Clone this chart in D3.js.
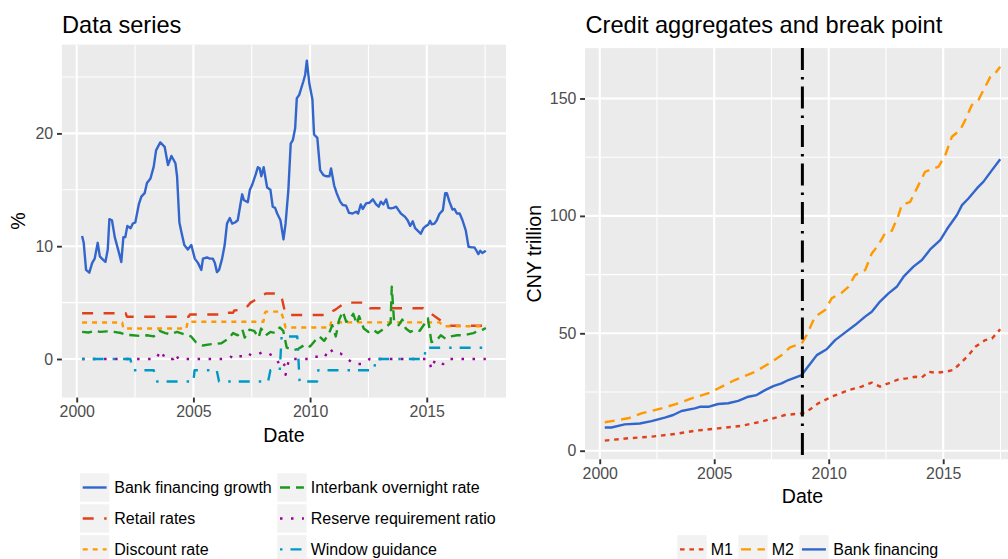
<!DOCTYPE html>
<html><head><meta charset="utf-8">
<script src="https://cdn.jsdelivr.net/npm/d3@7"></script>
<style>
html,body{margin:0;padding:0;background:#fff;}
svg{display:block;font-family:"Liberation Sans",Arial,Helvetica,sans-serif;}
</style></head>
<body><svg id="chart" width="1008" height="559"></svg>
<script>
// ---------------- DATA (left panel, %) ----------------
const bankGrowth = [[2000.23,10.9],[2000.30,10.3],[2000.40,7.9],[2000.54,7.65],[2000.66,8.5],[2000.77,8.9],[2000.90,10.3],[2000.99,9.1],[2001.08,8.9],[2001.23,8.6],[2001.33,9.7],[2001.40,12.4],[2001.51,12.3],[2001.63,10.8],[2001.80,9.5],[2001.91,8.6],[2002.00,10.8],[2002.08,10.8],[2002.17,11.8],[2002.31,11.6],[2002.40,12.0],[2002.51,12.1],[2002.66,13.7],[2002.77,14.4],[2002.91,14.7],[2003.01,15.6],[2003.16,16.0],[2003.30,17.05],[2003.40,18.5],[2003.58,19.2],[2003.77,18.8],[2003.91,17.2],[2004.06,18.0],[2004.23,17.35],[2004.30,16.2],[2004.40,12.1],[2004.48,11.3],[2004.61,10.1],[2004.76,9.7],[2004.91,10.1],[2005.06,8.9],[2005.20,8.5],[2005.34,7.9],[2005.41,8.9],[2005.58,9.0],[2005.70,8.9],[2005.83,8.9],[2005.92,8.5],[2006.01,7.7],[2006.10,7.9],[2006.23,8.9],[2006.34,10.1],[2006.44,12.0],[2006.56,12.5],[2006.66,12.0],[2006.78,12.1],[2006.90,12.3],[2007.01,13.65],[2007.09,14.6],[2007.16,14.1],[2007.33,13.9],[2007.42,15.0],[2007.51,15.4],[2007.66,16.3],[2007.76,17.0],[2007.84,16.9],[2007.91,16.2],[2008.01,17.0],[2008.16,15.2],[2008.30,15.0],[2008.40,13.5],[2008.50,13.4],[2008.59,12.9],[2008.73,12.3],[2008.86,10.6],[2008.95,12.0],[2009.07,15.0],[2009.17,19.1],[2009.26,19.4],[2009.36,20.45],[2009.43,23.1],[2009.53,23.4],[2009.71,24.6],[2009.79,25.2],[2009.86,26.45],[2009.97,24.4],[2010.10,23.0],[2010.17,19.9],[2010.31,19.6],[2010.43,16.75],[2010.57,16.3],[2010.70,16.2],[2010.83,16.2],[2010.90,16.9],[2010.96,16.2],[2011.03,15.4],[2011.14,14.7],[2011.29,13.95],[2011.40,13.65],[2011.54,13.6],[2011.67,12.95],[2011.82,12.9],[2011.97,13.05],[2012.06,12.9],[2012.17,13.7],[2012.26,13.3],[2012.40,13.8],[2012.54,13.85],[2012.69,14.15],[2012.83,13.7],[2012.94,13.5],[2013.03,13.95],[2013.14,13.7],[2013.26,14.15],[2013.36,13.4],[2013.46,13.35],[2013.57,13.4],[2013.69,13.5],[2013.79,13.2],[2013.89,12.9],[2014.07,12.6],[2014.18,12.3],[2014.29,11.8],[2014.40,12.2],[2014.50,11.6],[2014.60,11.4],[2014.74,11.1],[2014.86,11.6],[2014.97,11.8],[2015.06,11.9],[2015.14,12.25],[2015.21,11.95],[2015.33,12.0],[2015.43,12.3],[2015.54,12.85],[2015.69,13.2],[2015.79,14.7],[2015.86,14.7],[2015.97,13.95],[2016.10,13.25],[2016.19,13.3],[2016.29,12.9],[2016.41,12.9],[2016.53,12.3],[2016.67,11.4],[2016.79,9.95],[2016.93,9.9],[2017.04,9.9],[2017.13,9.6],[2017.21,9.3],[2017.29,9.6],[2017.38,9.4],[2017.53,9.6]];

const retailRates = [[2000.23,4.05],[2002.10,4.05],[2002.15,3.75],[2004.80,3.75],[2004.85,3.95],[2006.30,3.95],[2006.35,4.1],[2006.70,4.1],[2006.75,4.3],[2007.20,4.4],[2007.45,5.0],[2007.70,5.3],[2007.90,5.6],[2008.10,5.8],[2008.70,5.8],[2008.80,5.3],[2008.92,4.2],[2009.00,3.9],[2010.80,3.9],[2010.85,4.1],[2011.10,4.4],[2011.30,4.7],[2011.50,5.0],[2012.40,5.0],[2012.45,4.75],[2012.55,4.5],[2014.85,4.5],[2014.90,4.3],[2015.20,4.0],[2015.40,3.7],[2015.60,3.4],[2015.80,3.1],[2015.90,2.95],[2017.53,2.95]];

const discountRate = [[2000.23,3.24],[2001.95,3.24],[2002.00,2.7],[2004.70,2.7],[2004.75,3.3],[2008.00,3.3],[2008.05,4.0],[2008.10,4.2],[2008.75,4.2],[2008.85,3.6],[2008.95,2.79],[2010.85,2.79],[2010.90,3.25],[2015.55,3.25],[2015.65,3.0],[2015.80,2.9],[2017.53,2.9]];

const interbankRate = [[2000.23,2.4],[2000.5,2.35],[2000.8,2.5],[2001.0,2.4],[2001.3,2.45],[2001.6,2.4],[2001.9,2.3],[2002.1,2.15],[2002.4,2.1],[2002.7,2.05],[2003.0,2.1],[2003.3,2.0],[2003.55,2.5],[2003.8,2.3],[2004.0,2.2],[2004.3,2.4],[2004.6,2.2],[2004.9,2.0],[2005.1,1.5],[2005.4,1.2],[2005.7,1.3],[2006.0,1.35],[2006.2,1.4],[2006.5,1.8],[2006.7,2.3],[2006.9,2.1],[2007.1,2.6],[2007.2,1.9],[2007.4,2.6],[2007.6,2.5],[2007.8,1.9],[2007.9,2.7],[2008.1,2.1],[2008.3,2.4],[2008.5,2.3],[2008.7,2.8],[2008.85,2.5],[2009.0,1.0],[2009.3,0.8],[2009.5,0.9],[2009.8,1.3],[2010.0,1.1],[2010.2,1.6],[2010.4,2.0],[2010.6,1.6],[2010.8,2.2],[2010.95,3.0],[2011.1,2.0],[2011.25,3.5],[2011.4,4.2],[2011.55,3.3],[2011.7,3.5],[2011.85,4.0],[2012.0,3.1],[2012.1,3.8],[2012.3,2.7],[2012.5,2.4],[2012.7,2.6],[2012.9,2.3],[2013.1,2.6],[2013.3,2.9],[2013.45,3.2],[2013.5,6.4],[2013.6,3.3],[2013.8,3.0],[2013.95,3.5],[2014.1,2.7],[2014.3,2.4],[2014.5,2.6],[2014.7,2.5],[2014.9,3.1],[2015.05,3.6],[2015.2,1.5],[2015.4,1.6],[2015.6,2.1],[2015.8,1.8],[2016.0,2.0],[2016.3,2.1],[2016.6,2.1],[2016.8,2.2],[2017.0,2.3],[2017.2,2.5],[2017.4,2.6],[2017.53,2.75]];

const reserveRatio = [[2000.23,0],[2003.4,0],[2003.6,0.75],[2003.8,0],[2004.15,0],[2004.25,0.45],[2004.35,0],[2006.45,0],[2006.6,0.2],[2006.8,0],[2006.95,0.25],[2007.1,0.25],[2007.3,0.55],[2007.5,0.3],[2007.8,0.45],[2008.0,0.65],[2008.2,0.5],[2008.4,0.3],[2008.55,0],[2008.7,-0.5],[2008.8,-0.8],[2008.9,-0.5],[2008.95,-1.4],[2009.1,0],[2010.0,0],[2010.1,0.2],[2010.4,0.2],[2010.6,0.1],[2010.85,0.95],[2011.0,0.5],[2011.3,0.5],[2011.6,0],[2011.9,-0.45],[2012.2,-0.45],[2012.4,-0.25],[2012.55,0],[2014.95,0],[2015.1,-0.1],[2015.2,-0.9],[2015.35,-0.1],[2015.7,-0.45],[2015.9,0],[2017.53,0]];

const windowGuidance = [[2000.23,0],[2002.3,0],[2002.4,-1],[2003.3,-1],[2003.45,-2],[2005.0,-2],[2005.05,-1],[2006.0,-1],[2006.1,-2],[2008.2,-2],[2008.3,-1],[2008.7,-1],[2008.78,2],[2009.45,2],[2009.5,0],[2009.55,-2],[2010.3,-2],[2010.35,-1],[2012.75,-1],[2012.8,0],[2014.9,0],[2014.95,1],[2017.53,1]];

// ---------------- DATA (right panel, CNY trillion) ----------------
const m1 = [[2000.22,4.3],[2001.24,5.3],[2002.26,6.0],[2003.28,7.1],[2004.15,8.5],[2005.17,9.5],[2006.20,10.6],[2007.07,12.4],[2008.09,15.2],[2008.82,15.9],[2009.04,16.6],[2009.55,20.2],[2010.13,23.0],[2010.86,25.8],[2011.44,27.3],[2011.88,29.0],[2012.24,27.3],[2012.61,28.7],[2013.05,30.4],[2013.41,30.8],[2013.78,31.5],[2014.07,31.2],[2014.36,33.6],[2014.65,33.2],[2015.09,33.6],[2015.45,34.4],[2015.82,37.9],[2016.11,40.7],[2016.40,44.3],[2016.84,47.1],[2017.13,47.8],[2017.49,51.7]];

const m2 = [[2000.22,12.1],[2001.24,13.8],[2001.82,15.9],[2002.70,18.0],[2003.43,20.2],[2004.01,22.3],[2004.81,24.7],[2005.17,26.5],[2005.90,30.1],[2006.78,33.6],[2007.36,36.9],[2007.94,40.7],[2008.31,44.0],[2008.82,45.7],[2009.04,49.3],[2009.40,57.1],[2009.84,59.9],[2010.13,64.9],[2010.57,67.3],[2010.86,69.8],[2011.15,74.8],[2011.59,76.9],[2011.88,84.0],[2012.17,87.6],[2012.46,92.6],[2012.76,93.7],[2013.05,100.4],[2013.19,104.6],[2013.56,106.0],[2013.92,113.1],[2014.21,118.8],[2014.58,120.2],[2014.80,121.0],[2015.09,125.9],[2015.38,133.7],[2015.74,136.6],[2015.96,140.8],[2016.25,147.2],[2016.55,149.6],[2016.76,153.6],[2016.91,156.4],[2017.06,159.3],[2017.27,160.7],[2017.49,163.5]];

const bankFinancing = [[2000.22,9.9],[2000.51,9.9],[2001.09,11.2],[2001.75,11.6],[2002.26,12.6],[2002.84,14.1],[2003.21,15.2],[2003.57,16.9],[2004.15,18.0],[2004.37,18.7],[2004.74,18.7],[2005.17,19.9],[2005.61,20.2],[2006.05,21.2],[2006.49,23.0],[2006.85,23.7],[2007.22,25.8],[2007.58,27.5],[2007.94,28.7],[2008.24,30.1],[2008.82,32.2],[2009.04,35.1],[2009.26,37.9],[2009.48,40.7],[2009.91,43.2],[2010.28,47.1],[2010.71,50.3],[2011.15,53.5],[2011.59,57.1],[2011.88,59.2],[2012.24,63.5],[2012.61,67.0],[2012.97,69.8],[2013.27,74.1],[2013.70,78.4],[2014.07,81.2],[2014.43,85.7],[2014.87,89.7],[2015.16,94.3],[2015.60,100.4],[2015.82,104.6],[2016.11,107.5],[2016.47,111.7],[2016.76,114.6],[2017.13,119.5],[2017.49,124.1]];

const breakPoint = 2008.85;

const xTicks = [2000, 2005, 2010, 2015];
const leftYTicks = [0, 10, 20];
const rightYTicks = [0, 50, 100, 150];

const leftNames = ["Bank financing growth","Retail rates","Discount rate","Interbank overnight rate","Reserve requirement ratio","Window guidance"];
const rightNames = ["M1","M2","Bank financing"];

// ---------------- STYLES ----------------
const leftSeries = [
  {name:leftNames[0], data:bankGrowth,     color:"#3366CC", dash:null},
  {name:leftNames[1], data:retailRates,    color:"#E2401B", dash:"11,10.5"},
  {name:leftNames[2], data:discountRate,   color:"#FF9900", dash:"5,5"},
  {name:leftNames[3], data:interbankRate,  color:"#1C991C", dash:"10,6"},
  {name:leftNames[4], data:reserveRatio,   color:"#990099", dash:"2.5,8.5"},
  {name:leftNames[5], data:windowGuidance, color:"#0099C6", dash:"2.5,8,11,9"}
];
const rightSeries = [
  {name:rightNames[0], data:m1,            color:"#E2401B", dash:"4.6,4.8"},
  {name:rightNames[1], data:m2,            color:"#FF9900", dash:"10,6.5"},
  {name:rightNames[2], data:bankFinancing, color:"#3366CC", dash:null}
];

const svg = d3.select("#chart");
svg.append("rect").attr("width",1008).attr("height",559).attr("fill","#fff");

const LW = 2.4;
const tickCol = "#333333", labCol = "#4D4D4D";

function expand(ext){ const r = ext[1]-ext[0]; return [ext[0]-0.05*r, ext[1]+0.05*r]; }

function panel(cfg){
  const {x0,x1,y0,y1,series,yTicks,id} = cfg;
  const allX = series.flatMap(s=>s.data.map(d=>d[0]));
  const allY = series.flatMap(s=>s.data.map(d=>d[1]));
  const x = d3.scaleLinear().domain(expand(d3.extent(allX))).range([x0,x1]);
  const y = d3.scaleLinear().domain(expand(d3.extent(allY))).range([y1,y0]);
  const g = svg.append("g");
  g.append("rect").attr("x",x0).attr("y",y0).attr("width",x1-x0).attr("height",y1-y0).attr("fill","#EBEBEB");
  svg.append("clipPath").attr("id",id).append("rect").attr("x",x0).attr("y",y0).attr("width",x1-x0).attr("height",y1-y0);
  const xd = x.domain(), yd = y.domain();
  const xMinor = xTicks.map(t=>t+2.5).concat([xTicks[0]-2.5]).filter(t=>t>=xd[0]&&t<=xd[1]);
  const yStep = yTicks[1]-yTicks[0];
  const yMinor = yTicks.map(t=>t+yStep/2).concat([yTicks[0]-yStep/2]).filter(t=>t>=yd[0]&&t<=yd[1]);
  const grid = g.append("g").attr("clip-path",`url(#${id})`);
  grid.selectAll(".mnx").data(xMinor).enter().append("line")
    .attr("x1",d=>x(d)).attr("x2",d=>x(d)).attr("y1",y0).attr("y2",y1).attr("stroke","#fff").attr("stroke-width",1.1);
  grid.selectAll(".mny").data(yMinor).enter().append("line")
    .attr("y1",d=>y(d)).attr("y2",d=>y(d)).attr("x1",x0).attr("x2",x1).attr("stroke","#fff").attr("stroke-width",1.1);
  grid.selectAll(".mjx").data(xTicks).enter().append("line")
    .attr("x1",d=>x(d)).attr("x2",d=>x(d)).attr("y1",y0).attr("y2",y1).attr("stroke","#fff").attr("stroke-width",2.1);
  grid.selectAll(".mjy").data(yTicks).enter().append("line")
    .attr("y1",d=>y(d)).attr("y2",d=>y(d)).attr("x1",x0).attr("x2",x1).attr("stroke","#fff").attr("stroke-width",2.1);

  const xAxis = d3.axisBottom(x).tickValues(xTicks).tickFormat(d3.format("d")).tickSize(4.9).tickPadding(3.5);
  const yAxis = d3.axisLeft(y).tickValues(yTicks).tickFormat(d3.format("d")).tickSize(4.9).tickPadding(3.8);
  const gx = svg.append("g").attr("transform",`translate(0,${y1})`).call(xAxis);
  const gy = svg.append("g").attr("transform",`translate(${x0},0)`).call(yAxis);
  [gx,gy].forEach(a=>{
    a.select(".domain").remove();
    a.selectAll("line").attr("stroke",tickCol).attr("stroke-width",1.9);
    a.selectAll("text").attr("fill",labCol).style("font-size","15.9px").style("font-family","Liberation Sans, Arial, sans-serif");
  });
  return {x,y,g,clip:id};
}

function drawLines(p, series){
  const line = d3.line().x(d=>p.x(d[0])).y(d=>p.y(d[1]));
  const lg = svg.append("g").attr("clip-path",`url(#${p.clip})`);
  series.forEach(s=>{
    lg.append("path").datum(s.data).attr("d",line).attr("fill","none")
      .attr("stroke",s.color).attr("stroke-width",LW).attr("stroke-linejoin","round").attr("stroke-linecap","butt")
      .attr("stroke-dasharray",s.dash);
  });
  return lg;
}

// ---------- Left panel ----------
const L = panel({x0:61.9,x1:506,y0:44.6,y1:397.6,series:leftSeries,yTicks:leftYTicks,id:"clipL"});
drawLines(L, leftSeries);

// ---------- Right panel ----------
const R = panel({x0:585,x1:1020,y0:48.1,y1:459.3,series:rightSeries,yTicks:rightYTicks,id:"clipR"});
const rl = drawLines(R, rightSeries);
rl.append("line").attr("x1",R.x(breakPoint)).attr("x2",R.x(breakPoint)).attr("y1",48.1).attr("y2",459.3)
  .attr("stroke","#000").attr("stroke-width",3).attr("stroke-dasharray","22,7,2.5,7");

// ---------- Titles ----------
svg.append("text").attr("x",62).attr("y",32.5).text("Data series").style("font-size","23.6px").attr("fill","#000");
svg.append("text").attr("x",585.5).attr("y",32.5).text("Credit aggregates and break point").style("font-size","23.6px").attr("fill","#000");
svg.append("text").attr("x",(61.9+506)/2).attr("y",441.8).attr("text-anchor","middle").text("Date").style("font-size","19.6px");
svg.append("text").attr("x",(585+1020)/2).attr("y",503.3).attr("text-anchor","middle").text("Date").style("font-size","19.6px");
svg.append("text").attr("transform",`translate(24.5,${(44.6+397.6)/2}) rotate(-90)`).attr("text-anchor","middle").text("%").style("font-size","19.6px");
svg.append("text").attr("transform",`translate(540.5,${(48.1+459.3)/2}) rotate(-90)`).attr("text-anchor","middle").text("CNY trillion").style("font-size","19.6px");

// ---------- Legends ----------
function legendItem(x, yTop, s, textX){
  const kw = 29.3, kh = 28.4;
  svg.append("rect").attr("x",x).attr("y",yTop).attr("width",kw).attr("height",kh).attr("fill","#F2F2F2");
  svg.append("line").attr("x1",x+2.7).attr("x2",x+kw-2.7).attr("y1",yTop+kh/2).attr("y2",yTop+kh/2)
    .attr("stroke",s.color).attr("stroke-width",LW).attr("stroke-dasharray",s.dash);
  svg.append("text").attr("x",textX).attr("y",yTop+kh/2+5.7).text(s.name).style("font-size","16px").attr("fill","#000");
}
const leftCols = [{kx:80,tx:114.3},{kx:277.3,tx:310.7}];
const leftRows = [473.3,504.3,535.2];
leftSeries.forEach((s,i)=>{
  const c = leftCols[Math.floor(i/3)], r = leftRows[i%3];
  legendItem(c.kx, r, s, c.tx);
});
const rightKeys = [{kx:677.3,tx:710.7},{kx:738.3,tx:771.7},{kx:799.3,tx:833.3}];
rightSeries.forEach((s,i)=> legendItem(rightKeys[i].kx, 535.2, s, rightKeys[i].tx));
</script>
</body></html>
